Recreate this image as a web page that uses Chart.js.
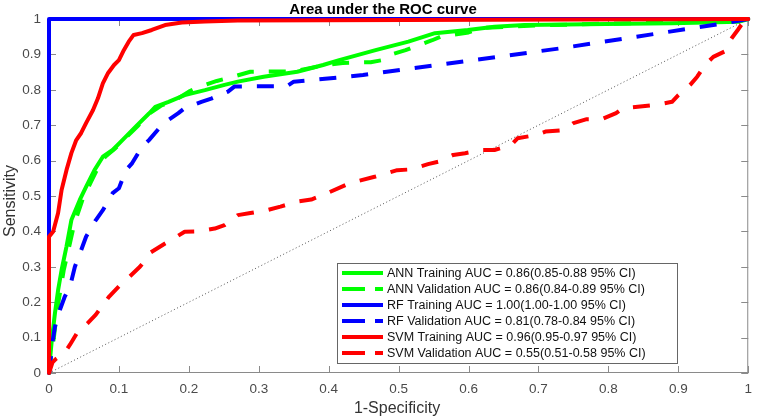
<!DOCTYPE html>
<html>
<head>
<meta charset="utf-8">
<script src="https://cdn.jsdelivr.net/npm/chart.js@4.4.1/dist/chart.umd.min.js"></script>
<style>
  html, body { margin: 0; padding: 0; background: #fff; }
  canvas { display: block; }
</style>
</head>
<body>
<canvas id="roc" width="760" height="418"></canvas>
<script>
// ROC points, [1-specificity, sensitivity]
const annTrain = [[0,0],[0.002,0.05],[0.004,0.093],[0.0085,0.169],[0.013,0.234],[0.018,0.291],[0.025,0.357],[0.032,0.432],[0.044,0.489],[0.053,0.526],[0.065,0.573],[0.077,0.611],[0.091,0.63],[0.105,0.658],[0.124,0.696],[0.143,0.733],[0.152,0.752],[0.171,0.766],[0.194,0.785],[0.223,0.799],[0.251,0.814],[0.27,0.823],[0.307,0.837],[0.355,0.851],[0.392,0.87],[0.415,0.884],[0.467,0.912],[0.514,0.936],[0.552,0.96],[0.599,0.969],[0.637,0.978],[0.68,0.983],[0.797,0.986],[0.891,0.988],[0.986,0.992],[1,1]]
const annVal = [[0,0],[0.003,0.05],[0.007,0.1],[0.011,0.17],[0.016,0.23],[0.021,0.29],[0.028,0.35],[0.036,0.42],[0.048,0.49],[0.06,0.54],[0.07,0.58],[0.08,0.61],[0.095,0.635],[0.11,0.665],[0.128,0.7],[0.145,0.735],[0.16,0.755],[0.18,0.77],[0.2,0.795],[0.213,0.807],[0.24,0.825],[0.26,0.835],[0.288,0.851],[0.34,0.852],[0.36,0.856],[0.39,0.868],[0.42,0.876],[0.46,0.878],[0.477,0.884],[0.49,0.9],[0.51,0.912],[0.548,0.94],[0.56,0.95],[0.6,0.962],[0.62,0.975],[0.7,0.982],[0.8,0.987],[0.9,0.99],[1,1]]
const rfTrain = [[0,0],[0,1],[1,1]]
const rfVal = [[0,0],[0.001,0.008],[0.004,0.074],[0.0085,0.131],[0.0155,0.178],[0.0226,0.216],[0.03,0.244],[0.037,0.3],[0.046,0.347],[0.053,0.385],[0.067,0.432],[0.077,0.46],[0.091,0.508],[0.1,0.522],[0.11,0.573],[0.119,0.593],[0.133,0.639],[0.143,0.658],[0.157,0.69],[0.164,0.706],[0.185,0.734],[0.194,0.748],[0.218,0.766],[0.232,0.775],[0.256,0.795],[0.265,0.809],[0.288,0.81],[0.34,0.81],[0.35,0.823],[0.378,0.828],[0.425,0.837],[0.449,0.842],[0.517,0.86],[0.731,0.917],[0.966,0.988],[1,1]]
const svmTrain = [[0,0],[0,0.385],[0.006,0.4],[0.013,0.452],[0.018,0.517],[0.025,0.573],[0.032,0.621],[0.039,0.658],[0.046,0.678],[0.053,0.706],[0.063,0.743],[0.07,0.776],[0.077,0.818],[0.084,0.846],[0.093,0.87],[0.1,0.884],[0.107,0.912],[0.114,0.936],[0.121,0.955],[0.133,0.96],[0.147,0.969],[0.166,0.983],[0.19,0.99],[0.223,0.993],[0.27,0.996],[1,1]]
const svmVal = [[0,0],[0.005,0.03],[0.01,0.04],[0.022,0.056],[0.03,0.08],[0.04,0.113],[0.055,0.14],[0.067,0.165],[0.086,0.216],[0.1,0.245],[0.114,0.27],[0.13,0.3],[0.14,0.325],[0.145,0.34],[0.166,0.366],[0.175,0.376],[0.194,0.399],[0.213,0.4],[0.237,0.408],[0.251,0.418],[0.27,0.446],[0.288,0.452],[0.312,0.46],[0.331,0.47],[0.355,0.484],[0.375,0.49],[0.392,0.503],[0.43,0.536],[0.467,0.555],[0.498,0.573],[0.517,0.575],[0.542,0.59],[0.557,0.597],[0.578,0.616],[0.595,0.621],[0.618,0.63],[0.637,0.63],[0.661,0.644],[0.67,0.663],[0.696,0.672],[0.71,0.682],[0.736,0.686],[0.75,0.706],[0.769,0.717],[0.79,0.717],[0.811,0.734],[0.821,0.748],[0.842,0.752],[0.867,0.757],[0.891,0.766],[0.9,0.785],[0.917,0.814],[0.927,0.837],[0.938,0.87],[0.95,0.893],[0.966,0.908],[0.971,0.931],[0.976,0.945],[0.985,0.969],[0.99,0.983],[0.997,1],[1,1]]
const chanceLine = [[0,0],[1,1]]
const tickValues = [0, 0.1, 0.2, 0.3, 0.4, 0.5, 0.6, 0.7, 0.8, 0.9, 1]

const FONT = "'Liberation Sans', Arial, Helvetica, sans-serif"
const DASH = [17, 15]

const pts = arr => arr.map(([x, y]) => ({ x, y }))

function series(label, data, color, dashed, order) {
  return {
    label,
    data: pts(data),
    borderColor: color,
    borderWidth: 4,
    borderDash: dashed ? DASH : [],
    borderJoinStyle: "round",
    borderCapStyle: dashed ? "butt" : "round",
    pointRadius: 0,
    tension: 0,
    fill: false,
    clip: false,
    order,
    inLegend: true
  }
}

// MATLAB-style box with inward ticks on all four sides
const boxPlugin = {
  id: "box",
  beforeDatasetsDraw(chart) {
    const { ctx, chartArea: a, scales: { x, y } } = chart
    ctx.save()
    ctx.strokeStyle = "#8a8a8a"
    ctx.lineWidth = 1
    ctx.strokeRect(a.left + 0.5, a.top + 0.5, a.right - a.left - 1, a.bottom - a.top - 1)
    ctx.beginPath()
    tickValues.forEach(v => {
      const px = Math.round(x.getPixelForValue(v)) + 0.5
      ctx.moveTo(px, a.bottom); ctx.lineTo(px, a.bottom - 7)
      ctx.moveTo(px, a.top); ctx.lineTo(px, a.top + 7)
      const py = Math.round(y.getPixelForValue(v)) + 0.5
      ctx.moveTo(a.left, py); ctx.lineTo(a.left + 7, py)
      ctx.moveTo(a.right, py); ctx.lineTo(a.right - 7, py)
    })
    ctx.stroke()
    ctx.restore()
  },
  afterDraw(chart) {
    const { ctx } = chart
    ctx.save()
    ctx.fillStyle = "#000"
    ctx.textAlign = "center"
    ctx.textBaseline = "alphabetic"
    ctx.font = "bold 15px " + FONT
    ctx.fillText("Area under the ROC curve", 383, 14)
    ctx.fillStyle = "#333"
    ctx.font = "16px " + FONT
    ctx.fillText("1-Specificity", 397, 413)
    ctx.translate(15, 201)
    ctx.rotate(-Math.PI / 2)
    ctx.fillText("Sensitivity", 0, 0)
    ctx.restore()
  }
}

const legendPlugin = {
  id: "boxLegend",
  afterDatasetsDraw(chart) {
    const { ctx } = chart
    const items = chart.data.datasets.filter(d => d.inLegend)
    const left = 337, top = 263, right = 677, rowH = 16
    const bottom = top + rowH * items.length + 4
    ctx.save()
    ctx.fillStyle = "#fff"
    ctx.fillRect(left, top, right - left, bottom - top)
    ctx.strokeStyle = "#666"
    ctx.lineWidth = 1
    ctx.strokeRect(left + 0.5, top + 0.5, right - left, bottom - top)
    ctx.font = "12.5px " + FONT
    ctx.textBaseline = "middle"
    ctx.textAlign = "left"
    items.forEach((d, i) => {
      const cy = top + 10 + i * rowH
      ctx.strokeStyle = d.borderColor
      ctx.lineWidth = 4
      ctx.lineCap = "butt"
      ctx.setLineDash(d.borderDash.length ? [23, 10] : [])
      ctx.beginPath()
      ctx.moveTo(342, cy)
      ctx.lineTo(383, cy)
      ctx.stroke()
      ctx.setLineDash([])
      ctx.fillStyle = "#111"
      ctx.fillText(d.label, 387, cy + 0.5)
    })
    ctx.restore()
  }
}

const datasets = [
  series("ANN Training AUC = 0.86(0.85-0.88 95% CI)", annTrain, "#00ff00", false, 6),
  series("ANN Validation AUC = 0.86(0.84-0.89 95% CI)", annVal, "#00ff00", true, 5),
  series("RF Training AUC = 1.00(1.00-1.00 95% CI)", rfTrain, "#0000ff", false, 4),
  series("RF Validation AUC = 0.81(0.78-0.84 95% CI)", rfVal, "#0000ff", true, 3),
  series("SVM Training AUC = 0.96(0.95-0.97 95% CI)", svmTrain, "#ff0000", false, 2),
  series("SVM Validation AUC = 0.55(0.51-0.58 95% CI)", svmVal, "#ff0000", true, 1),
  {
    label: "chance",
    data: pts(chanceLine),
    borderColor: "#555",
    borderWidth: 1,
    borderDash: [1, 2.5],
    pointRadius: 0,
    fill: false,
    order: 10
  }
]

const tickFmt = v => String(Math.round(v * 10) / 10)

new Chart(document.getElementById("roc"), {
  type: "line",
  data: { datasets },
  options: {
    responsive: false,
    animation: false,
    devicePixelRatio: 1,
    layout: { padding: { top: 19, right: 3, left: 0, bottom: 0 } },
    plugins: { legend: { display: false }, tooltip: { enabled: false }, title: { display: false } },
    scales: {
      x: {
        type: "linear",
        min: 0,
        max: 1,
        afterBuildTicks: s => { s.ticks = tickValues.map(value => ({ value })) },
        afterFit: s => { s.height = 45 },
        grid: { display: false, drawTicks: false },
        border: { display: false },
        ticks: { callback: tickFmt, color: "#4a4a4a", font: { family: FONT, size: 13.5 }, padding: 8, maxRotation: 0 }
      },
      y: {
        type: "linear",
        min: 0,
        max: 1,
        afterBuildTicks: s => { s.ticks = tickValues.map(value => ({ value })) },
        afterFit: s => { s.width = 49 },
        grid: { display: false, drawTicks: false },
        border: { display: false },
        ticks: { callback: tickFmt, color: "#4a4a4a", font: { family: FONT, size: 13.5 }, padding: 8 }
      }
    }
  },
  plugins: [boxPlugin, legendPlugin]
})
</script>
</body>
</html>
